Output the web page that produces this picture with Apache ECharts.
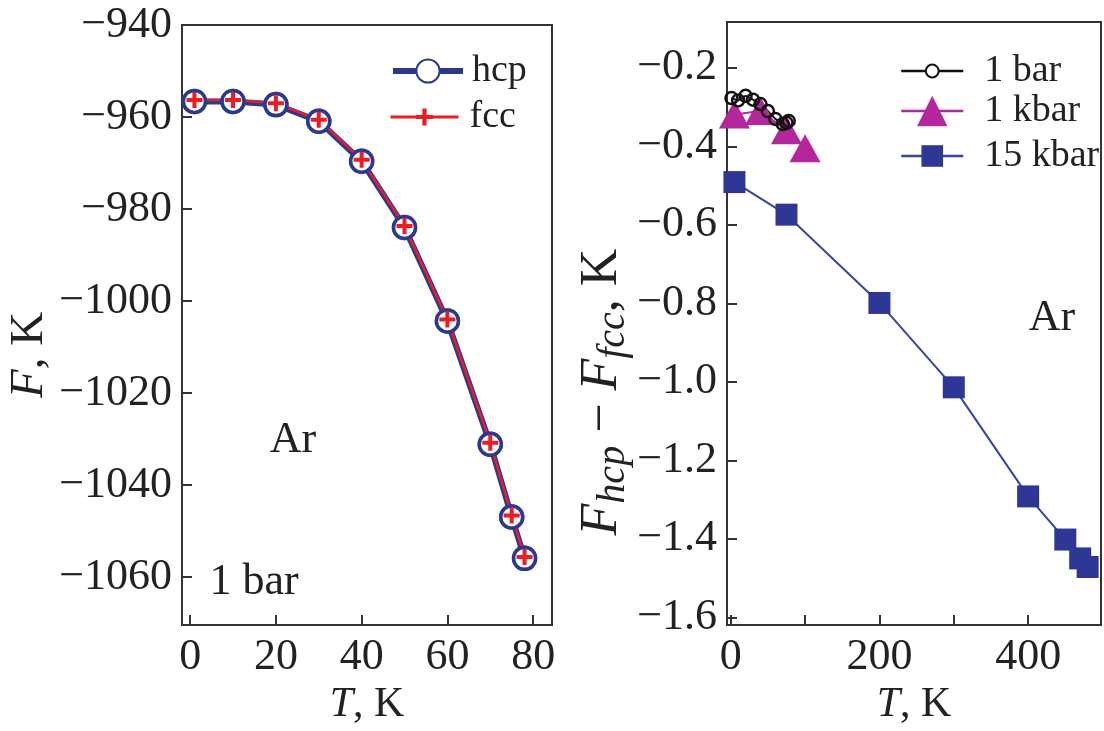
<!DOCTYPE html>
<html>
<head>
<meta charset="utf-8">
<script src="https://cdn.jsdelivr.net/npm/echarts@6/dist/echarts.min.js"></script>
<style>
  html, body { margin: 0; padding: 0; background: #ffffff; }
  #chart { width: 1104px; height: 731px; }
</style>
</head>
<body>
<div id="chart"></div>
<script>
// Free energy of solid argon at 1 bar (left panel)
const tempAr = [1, 10, 20, 30, 40, 50, 60, 70, 75, 78];
const freeHcp = [-956.6, -956.6, -957.3, -960.9, -969.6, -984.0, -1004.3, -1031.1, -1046.9, -1055.9];
const freeFcc = [-956.3, -956.3, -957.0, -960.6, -969.3, -983.7, -1004.0, -1030.8, -1046.6, -1055.6];

// hcp − fcc free-energy difference at three pressures (right panel)
const temp1bar = [1, 10, 20, 30, 40, 50, 60, 70, 75, 78];
const diff1bar = [-0.277, -0.283, -0.271, -0.281, -0.292, -0.310, -0.330, -0.343, -0.340, -0.335];
const temp1kbar = [5, 40, 75, 100];
const diff1kbar = [-0.319, -0.310, -0.359, -0.405];
const temp15kbar = [5, 75, 200, 300, 400, 450, 470, 480];
const diff15kbar = [-0.491, -0.574, -0.799, -1.014, -1.292, -1.402, -1.450, -1.472];

// Tick positions
const leftXTicks = [0, 20, 40, 60, 80];
const leftYTicks = [-1060, -1040, -1020, -1000, -980, -960, -940];
const rightXTicks = [0, 100, 200, 300, 400];
const rightXLabels = [0, 200, 400];
const rightYTicks = [-1.6, -1.4, -1.2, -1.0, -0.8, -0.6, -0.4, -0.2];

const SERIF = '"Liberation Serif", "DejaVu Serif", serif';
const INK = '#222222';
const FRAME = '#333333';
const BLUE = '#2b3990';
const RED = '#ed1c24';
const MAGENTA = '#b5259b';
const SQUARE_BLUE = '#2e3796';
const PLUS = 'path://M3,0h2v3h3v2h-3v3h-2v-3h-3v-2h3z';

const zip = (xs, ys) => xs.map((x, i) => [x, ys[i]]);
const minus = s => String(s).replace('-', '\u2212');

function valueAxis(gridIndex, min, max, ticks, labels, fmt, extra) {
  return Object.assign({
    type: 'value', gridIndex, min, max,
    axisLine: { show: true, onZero: false, lineStyle: { color: FRAME, width: 2 } },
    axisTick: { show: true, inside: true, length: 10, customValues: ticks,
                lineStyle: { color: FRAME, width: 2 } },
    axisLabel: { customValues: labels || ticks, formatter: fmt, margin: 10,
                 color: INK, fontSize: 44, fontFamily: SERIF },
    splitLine: { show: false }
  }, extra || {});
}

function legendItem(item, left, centerY, w, h, padLeft) {
  return {
    data: [item], left, top: centerY - 20, orient: 'vertical',
    itemWidth: w, itemHeight: h, padding: 0, selectedMode: false,
    textStyle: { color: INK, fontSize: 38, fontFamily: SERIF,
                 padding: [0, 0, 0, padLeft || 0] }
  };
}

const xName = {
  name: '{i|T}, K', nameLocation: 'middle', nameGap: 50,
  nameTextStyle: { color: INK, fontSize: 42, fontFamily: SERIF,
    rich: { i: { fontStyle: 'italic', fontSize: 42, fontFamily: SERIF, color: INK } } }
};

const chart = echarts.init(document.getElementById('chart'), null, { renderer: 'canvas' });

const option = {
  animation: false,
  backgroundColor: '#ffffff',
  grid: [
    { left: 182, right: 552, top: 25, bottom: 95, show: true, borderColor: FRAME, borderWidth: 2 },
    { left: 727, right: 3, top: 22, bottom: 95, show: true, borderColor: FRAME, borderWidth: 2 }
  ],
  xAxis: [
    valueAxis(0, -1.9, 84.4, leftXTicks, leftXTicks, v => String(v), xName),
    valueAxis(1, -5, 498, rightXTicks, rightXLabels, v => String(v), xName)
  ],
  yAxis: [
    valueAxis(0, -1070.4, -940, leftYTicks, leftYTicks, v => minus(v)),
    valueAxis(1, -1.62, -0.083, rightYTicks, rightYTicks, v => minus(v.toFixed(1)))
  ],
  legend: [
    legendItem({ name: 'hcp', lineStyle: { width: 6 } }, 390, 72, 70, 29, 4),
    legendItem({ name: 'fcc', lineStyle: { width: 3 } }, 389, 118, 68, 21, 6),
    legendItem({ name: '1 bar', itemStyle: { color: '#ffffff' }, lineStyle: { width: 2.5 } }, 900, 72, 62, 16, 16),
    legendItem({ name: '1 kbar', lineStyle: { width: 2.5 } }, 900, 112, 62, 38, 16),
    legendItem({ name: '15 kbar', lineStyle: { width: 2.5 } }, 900, 157, 62, 27, 16)
  ],
  graphic: [
    { type: 'text', x: 30, y: 355, rotation: Math.PI / 2,
      style: { text: '{i|F}, K', align: 'center', verticalAlign: 'middle',
        fontSize: 47, fontFamily: SERIF, fill: INK,
        rich: { i: { fontStyle: 'italic', fontSize: 47, fontFamily: SERIF, fill: INK } } } },
    { type: 'text', x: 602, y: 392, rotation: Math.PI / 2,
      style: { text: '{i|F}{s|hcp}{n| \u2212 }{i|F}{s|fcc}{n|, K}', align: 'center', verticalAlign: 'middle',
        fontSize: 52, fontFamily: SERIF, fill: INK,
        rich: {
          i: { fontStyle: 'italic', fontSize: 52, lineHeight: 62, fontFamily: SERIF, fill: INK },
          n: { fontSize: 52, lineHeight: 62, fontFamily: SERIF, fill: INK },
          s: { fontStyle: 'italic', fontSize: 40, lineHeight: 40, verticalAlign: 'bottom', fontFamily: SERIF, fill: INK }
        } } },
    { type: 'text', x: 293, y: 440,
      style: { text: 'Ar', align: 'center', verticalAlign: 'middle', fontSize: 44, fontFamily: SERIF, fill: INK } },
    { type: 'text', x: 254, y: 582,
      style: { text: '1 bar', align: 'center', verticalAlign: 'middle', fontSize: 44, fontFamily: SERIF, fill: INK } },
    { type: 'text', x: 1052, y: 318,
      style: { text: 'Ar', align: 'center', verticalAlign: 'middle', fontSize: 44, fontFamily: SERIF, fill: INK } }
  ],
  series: [
    // left panel: thick hcp line, thin fcc line on top, then markers above both lines
    { name: 'hcp', type: 'line', xAxisIndex: 0, yAxisIndex: 0, data: zip(tempAr, freeHcp),
      symbol: 'circle', symbolSize: 22,
      lineStyle: { color: BLUE, width: 6 },
      itemStyle: { color: '#ffffff', borderColor: BLUE, borderWidth: 3.5 } },
    { name: 'fcc', type: 'line', xAxisIndex: 0, yAxisIndex: 0, data: zip(tempAr, freeFcc),
      symbol: PLUS, symbolSize: 16,
      lineStyle: { color: RED, width: 2.5 },
      itemStyle: { color: RED } },
    { name: 'hcp', type: 'scatter', xAxisIndex: 0, yAxisIndex: 0, data: zip(tempAr, freeHcp),
      symbol: 'circle', symbolSize: 22,
      itemStyle: { color: '#ffffff', borderColor: BLUE, borderWidth: 3.5 } },
    { name: 'fcc', type: 'scatter', xAxisIndex: 0, yAxisIndex: 0, data: zip(tempAr, freeFcc),
      symbol: PLUS, symbolSize: 16, itemStyle: { color: RED } },

    // right panel
    { name: '15 kbar', type: 'line', xAxisIndex: 1, yAxisIndex: 1, data: zip(temp15kbar, diff15kbar),
      symbol: 'rect', symbolSize: 22,
      lineStyle: { color: '#3447a6', width: 2 },
      itemStyle: { color: SQUARE_BLUE } },
    { name: '1 kbar', type: 'line', xAxisIndex: 1, yAxisIndex: 1, data: zip(temp1kbar, diff1kbar),
      symbol: 'triangle', symbolSize: [31, 28],
      lineStyle: { color: MAGENTA, width: 2 },
      itemStyle: { color: MAGENTA } },
    { name: '1 bar', type: 'line', xAxisIndex: 1, yAxisIndex: 1, data: zip(temp1bar, diff1bar),
      symbol: 'circle', symbolSize: 12,
      lineStyle: { color: '#111111', width: 2 },
      itemStyle: { color: 'rgba(255,255,255,0)', borderColor: '#111111', borderWidth: 2.5 } }
  ]
};

chart.setOption(option);
</script>
</body>
</html>
